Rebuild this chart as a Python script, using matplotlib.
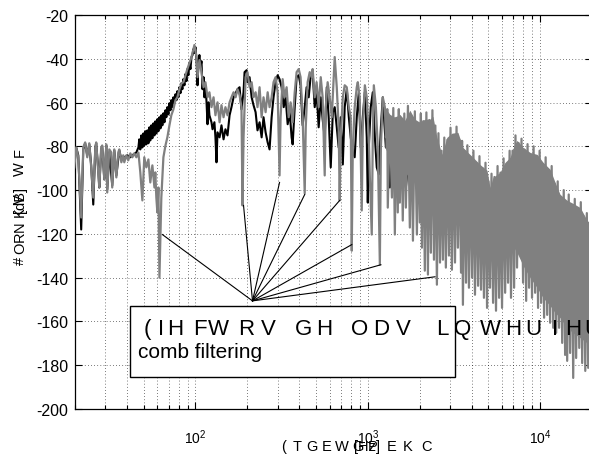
import numpy as np
import matplotlib
matplotlib.use("Agg")
import matplotlib.pyplot as plt
from matplotlib.patches import Rectangle
from matplotlib.ticker import LogLocator, NullFormatter

plt.rcParams['font.family'] = ['Liberation Sans', 'DejaVu Sans']
plt.rcParams['axes.unicode_minus'] = False
plt.rcParams['mathtext.fontset'] = 'custom'
plt.rcParams['mathtext.rm'] = 'Liberation Sans'
plt.rcParams['mathtext.it'] = 'Liberation Sans:italic'
plt.rcParams['mathtext.bf'] = 'Liberation Sans:bold'

# ---------------- data (log10 of frequency in Hz, level in dB) ----------------
black_logf = [1.297,1.308,1.320,1.337,1.349,1.360,1.372,1.384,1.395,1.407,
 1.419,1.424,1.436,1.442,1.453,1.459,1.471,1.483,1.488,1.500,
 1.517,1.529,1.541,1.558,1.570,1.587,1.605,1.622,1.640,1.657,
 1.669,1.674,1.680,1.686,1.692,1.698,1.703,1.709,1.715,1.721,
 1.727,1.733,1.738,1.744,1.750,1.756,1.762,1.767,1.773,1.779,
 1.785,1.791,1.797,1.802,1.808,1.814,1.820,1.826,1.831,1.837,
 1.843,1.849,1.855,1.860,1.866,1.872,1.878,1.884,1.890,1.895,
 1.901,1.907,1.913,1.919,1.924,1.930,1.936,1.942,1.948,1.953,
 1.959,1.965,1.971,1.977,1.983,1.988,1.994,2.000,2.006,2.012,
 2.017,2.023,2.029,2.035,2.041,2.047,2.052,2.058,2.064,2.070,
 2.076,2.081,2.093,2.099,2.110,2.116,2.122,2.128,2.140,2.151,
 2.163,2.174,2.186,2.198,2.209,2.221,2.233,2.244,2.256,2.267,
 2.279,2.285,2.297,2.302,2.314,2.326,2.337,2.349,2.360,2.372,
 2.384,2.395,2.407,2.419,2.430,2.442,2.453,2.465,2.477,2.488,
 2.500,2.512,2.523,2.535,2.547,2.558,2.564,2.576,2.587,2.599,
 2.610,2.622,2.634,2.645,2.657,2.669,2.680,2.692,2.703,2.715,
 2.727,2.738,2.750,2.762,2.773,2.785,2.797,2.808,2.820,2.831,
 2.843,2.855,2.866,2.878,2.890,2.901,2.913,2.924,2.936,2.948,
 2.959,2.971,2.983,2.994,3.000,3.006,3.017,3.029,3.041,3.052,
 3.064,3.076,3.087,3.105,3.116,3.128,3.140,3.151,3.168,3.186,
 3.203,3.221,3.238,3.256,3.273,3.291,3.308,3.326,3.343,3.360,
 3.378,3.395,3.419,3.436,3.453,3.477,3.494,3.512,3.535,3.593,
 3.709,3.826,3.942,4.058,4.174,4.302]
black_db = [-88.7,-80.5,-84.1,-118.0,-81.4,-78.6,-84.1,-79.1,-88.7,-106.6,
 -80.5,-78.6,-90.5,-98.8,-81.4,-80.5,-95.1,-79.6,-99.7,-82.8,
 -97.9,-81.8,-93.3,-81.8,-86.0,-85.0,-84.1,-85.0,-83.7,-82.8,
 -80.5,-76.8,-81.4,-75.0,-80.5,-74.1,-79.6,-73.1,-79.1,-72.7,
 -78.6,-71.3,-77.3,-70.4,-76.3,-69.5,-75.0,-68.6,-74.1,-67.6,
 -73.1,-66.7,-71.8,-65.8,-70.4,-64.9,-69.0,-63.5,-66.7,-62.1,
 -65.4,-60.3,-63.5,-58.9,-62.1,-57.6,-60.3,-56.2,-58.9,-54.8,
 -57.6,-53.0,-55.7,-51.2,-53.9,-49.3,-52.1,-47.0,-50.2,-44.7,
 -47.5,-42.0,-44.7,-39.2,-38.3,-35.6,-37.4,-34.7,-40.2,-52.1,
 -41.5,-38.3,-43.8,-41.1,-53.9,-48.4,-57.6,-53.0,-59.4,-69.9,
 -59.9,-65.8,-69.0,-72.2,-69.0,-75.9,-87.3,-73.6,-75.9,-70.4,
 -76.8,-72.2,-75.0,-65.8,-62.1,-57.6,-55.7,-53.9,-53.0,-63.1,
 -55.3,-46.1,-45.2,-50.7,-48.4,-57.6,-61.2,-64.4,-72.7,-69.0,
 -75.9,-66.7,-73.6,-78.2,-81.4,-66.7,-57.6,-50.7,-47.5,-49.3,
 -53.0,-62.1,-57.6,-69.9,-64.4,-75.9,-79.1,-62.1,-48.4,-47.5,
 -52.1,-70.4,-62.1,-53.0,-57.6,-47.5,-46.1,-62.1,-55.3,-71.3,
 -57.6,-67.6,-75.9,-53.0,-66.7,-89.6,-64.4,-62.1,-71.3,-80.5,
 -66.7,-88.3,-62.1,-53.9,-66.7,-75.9,-82.8,-85.0,-66.7,-55.3,
 -80.5,-66.7,-55.3,-75.9,-105.7,-80.5,-62.1,-55.3,-75.9,-89.6,
 -92.8,-71.3,-57.6,-80.5,-75.9,-98.8,-80.5,-94.2,-80.5,-96.5,
 -75.9,-98.8,-85.0,-100.2,-80.5,-96.5,-75.9,-98.8,-80.5,-110.2,
 -85.0,-117.1,-94.2,-119.8,-89.6,-108.0,-80.5,-98.8,-89.6,-94.2,
 -103.4,-103.4,-112.5,-126.3,-135.4,-140.0]

gray_logf_low = [1.297,1.308,1.320,1.337,1.349,1.360,1.372,1.384,1.395,1.407,
 1.419,1.424,1.436,1.442,1.453,1.459,1.471,1.483,1.488,1.500,
 1.512,1.517,1.529,1.541,1.552,1.558,1.570,1.581,1.587,1.599,
 1.610,1.622,1.634,1.645,1.657,1.669,1.680,1.692,1.703,1.715,
 1.727,1.738,1.750,1.762,1.767,1.773,1.779,1.785,1.791,1.802,
 1.814,1.826,1.837,1.849,1.860,1.872,1.884,1.895,1.907,1.919,
 1.930,1.942,1.953,1.965,1.977,1.988,1.994,2.006,2.012,2.023,
 2.035,2.047,2.058,2.070,2.081,2.093,2.105,2.116,2.128,2.140,
 2.151,2.163,2.174,2.186,2.198,2.209,2.221,2.233,2.244,2.256,
 2.267,2.273,2.279,2.291,2.302,2.314,2.326,2.337,2.349,2.360,
 2.372,2.384,2.395,2.407,2.419,2.430,2.442,2.453,2.465,2.477,
 2.488,2.494,2.506,2.517,2.529,2.541,2.552,2.564,2.576,2.587,
 2.599,2.610,2.622,2.634,2.640,2.651,2.663,2.674,2.680,2.692,
 2.703,2.715,2.727,2.738,2.750,2.756,2.767,2.779,2.791,2.802,
 2.808,2.820,2.831,2.837,2.843,2.855,2.866,2.878,2.890,2.901,
 2.907,2.913,2.924,2.936,2.942,2.953,2.965,2.971,2.983,2.994,
 3.006,3.012,3.023,3.029,3.035,3.047,3.058,3.070,3.076,3.087,
 3.099,3.105,3.110]
gray_db_low = [-89.6,-80.5,-85.0,-112.5,-80.5,-78.2,-85.0,-78.6,-89.6,-103.4,
 -80.5,-78.2,-91.9,-98.8,-80.5,-79.6,-95.1,-79.1,-101.1,-81.4,
 -82.8,-98.8,-81.4,-94.2,-82.8,-81.4,-87.3,-84.1,-87.3,-84.1,
 -86.4,-83.2,-85.0,-83.2,-85.0,-82.8,-91.9,-104.7,-85.0,-89.6,
 -86.0,-96.5,-88.7,-98.8,-91.9,-103.4,-110.2,-98.8,-140.0,-103.4,
 -85.0,-79.6,-75.9,-70.4,-65.8,-63.1,-58.9,-57.6,-53.9,-51.2,
 -50.7,-47.5,-44.7,-42.0,-39.2,-35.6,-33.7,-39.2,-48.4,-40.6,
 -46.1,-53.0,-50.7,-57.6,-55.3,-62.1,-57.6,-65.8,-59.9,-69.0,
 -61.2,-66.7,-62.1,-65.8,-59.9,-57.6,-55.3,-57.6,-53.9,-56.6,
 -62.1,-107.0,-75.9,-48.4,-46.1,-53.0,-50.7,-57.6,-55.3,-62.1,
 -53.0,-66.7,-57.6,-64.4,-55.3,-62.1,-57.6,-50.7,-48.4,-55.3,
 -93.3,-66.7,-49.3,-57.6,-53.0,-66.7,-59.9,-69.0,-55.3,-46.1,
 -44.7,-48.4,-66.7,-101.5,-71.3,-50.7,-46.1,-48.4,-44.7,-57.6,
 -50.7,-62.1,-48.4,-57.6,-93.3,-62.1,-50.7,-57.6,-66.7,-48.4,
 -39.2,-53.0,-71.3,-104.7,-75.9,-57.6,-52.1,-53.0,-62.1,-66.7,
 -127.7,-80.5,-62.1,-53.0,-50.7,-57.6,-109.3,-71.3,-52.1,-57.6,
 -75.9,-94.2,-120.3,-75.9,-52.1,-62.1,-80.5,-134.1,-80.5,-57.6,
 -62.1,-75.9,-69.0]

gray_logf_high = [3.113,3.116,3.128,3.140,3.148,3.157,3.165,3.174,3.180,3.186,
 3.195,3.203,3.212,3.221,3.233,3.244,3.253,3.262,3.273,3.285,
 3.294,3.302,3.308,3.314,3.322,3.331,3.340,3.349,3.357,3.366,
 3.375,3.384,3.392,3.401,3.410,3.419,3.428,3.436,3.444,3.453,
 3.462,3.471,3.480,3.488,3.497,3.506,3.515,3.523,3.532,3.541,
 3.547,3.552,3.561,3.570,3.578,3.587,3.596,3.605,3.613,3.622,
 3.631,3.640,3.648,3.657,3.666,3.674,3.683,3.692,3.700,3.709,
 3.718,3.727,3.735,3.744,3.753,3.762,3.770,3.779,3.788,3.797,
 3.805,3.814,3.823,3.831,3.840,3.849,3.857,3.866,3.875,3.884,
 3.892,3.901,3.910,3.919,3.927,3.936,3.945,3.953,3.962,3.971,
 3.980,3.988,3.997,4.006,4.014,4.023,4.032,4.041,4.049,4.058,
 4.067,4.076,4.084,4.093,4.102,4.110,4.119,4.128,4.137,4.145,
 4.151,4.157,4.166,4.174,4.183,4.192,4.201,4.209,4.218,4.227,
 4.236,4.244,4.253,4.262,4.271,4.279,4.288,4.297,4.305]
gray_db_high = [-63.0,-108.0,-66.5,-103.4,-62.5,-120.3,-67.0,-110.2,-63.0,-105.7,
 -68.0,-113.9,-65.0,-108.0,-61.5,-117.1,-66.5,-123.1,-64.0,-120.3,
 -69.5,-114.8,-65.0,-126.3,-68.5,-136.8,-64.5,-138.6,-68.0,-128.6,
 -63.5,-131.8,-70.5,-143.2,-74.0,-133.1,-82.0,-131.8,-76.0,-135.4,
 -77.0,-129.9,-71.5,-136.4,-75.0,-133.1,-71.0,-126.3,-77.0,-137.7,
 -77.5,-152.4,-82.0,-142.3,-79.5,-144.6,-85.0,-140.0,-82.0,-147.8,
 -87.5,-143.7,-84.5,-145.5,-90.0,-149.2,-87.5,-153.8,-96.0,-144.6,
 -92.5,-151.5,-94.0,-155.1,-89.0,-149.2,-92.0,-153.8,-85.5,-146.9,
 -88.0,-142.3,-82.0,-149.2,-82.0,-144.6,-75.0,-135.4,-78.5,-129.5,
 -76.5,-142.3,-81.5,-150.6,-79.0,-144.6,-84.0,-149.2,-80.0,-146.9,
 -85.0,-153.8,-82.0,-151.5,-88.0,-158.3,-85.0,-157.0,-91.0,-160.6,
 -89.0,-162.9,-97.0,-165.2,-96.0,-162.9,-103.0,-169.8,-100.0,-175.3,
 -105.5,-178.0,-102.0,-174.4,-107.0,-185.8,-104.0,-176.7,-108.5,-172.1,
 -105.5,-179.0,-112.0,-182.6,-110.5,-181.2,-116.0,-179.0,-116.0]

# solid body of the dense grey spectrum above ~1.2 kHz
band_logf = [3.099,3.128,3.157,3.186,3.215,3.244,3.273,3.302,3.331,3.360,
 3.378,3.401,3.430,3.459,3.488,3.523,3.552,3.581,3.610,3.651,
 3.692,3.709,3.727,3.767,3.797,3.826,3.849,3.866,3.901,3.942,
 3.983,4.017,4.058,4.087,4.116,4.157,4.192,4.233,4.273,4.302]
band_hi = [-62.0,-65.4,-66.7,-65.4,-68.1,-63.5,-67.6,-69.0,-67.6,-67.6,
 -66.3,-75.9,-83.7,-75.9,-74.0,-73.6,-80.5,-82.8,-85.0,-88.3,
 -91.0,-98.8,-94.2,-91.9,-87.3,-85.0,-79.6,-77.3,-80.5,-82.8,
 -83.7,-87.3,-90.5,-96.5,-102.0,-104.7,-106.1,-108.0,-113.9,-115.7]
band_lo = [-80.5,-85.0,-87.3,-89.6,-91.9,-94.2,-94.2,-96.5,-98.8,-101.0,
 -101.0,-103.4,-105.7,-108.0,-110.2,-112.5,-117.1,-121.7,-124.0,-128.6,
 -130.9,-131.8,-131.8,-131.8,-130.0,-126.3,-126.3,-128.6,-134.5,-140.0,
 -144.6,-149.2,-152.8,-156.0,-158.3,-162.9,-165.2,-167.5,-169.8,-171.2]

# annotation: lines from one point to the comb-filter notches
ann_from_logf, ann_from_db = 2.331, -150.6
ann_logf = [1.808, 2.279, 2.488, 2.634, 2.837, 2.907, 3.076, 3.390]
ann_db = [-120.3, -107.0, -96.5, -102.0, -104.7, -124.9, -134.1, -139.6]

y_ticks = [-200, -180, -160, -140, -120, -100, -80, -60, -40, -20]
x_ticks = [100, 1000, 10000]
x_ticklabels = ['$10^{2}$', '$10^{3}$', '$10^{4}$']

title_chars = list("(IHFWRVGHODVLQWHUIHU")
ylabel_chars = list("#ORNKVWF")
xlabel_chars = list("(TGEWGPEKC")
ylabel_unit = "[dB]"
xlabel_unit = "[Hz]"
box_text = "comb filtering"

# ---------------- figure ----------------
W, H = 589, 464
fig = plt.figure(figsize=(W / 100, H / 100), dpi=100)
fx = lambda px: px / W
fy = lambda py: 1 - py / H

ax = fig.add_axes([fx(75), fy(410), 517 / W, 394 / H])
ax.set_xscale('log')

GRAY = '#808080'
ax.plot(10 ** np.array(black_logf), black_db, color='black', lw=1.5, zorder=2)
ax.fill_between(10 ** np.array(band_logf), band_lo, band_hi, color=GRAY, lw=0, zorder=3)
ax.plot(10 ** np.array(gray_logf_low + gray_logf_high), gray_db_low + gray_db_high,
        color=GRAY, lw=1.6, zorder=3)

for lf, d in zip(ann_logf, ann_db):
    ax.plot([10 ** ann_from_logf, 10 ** lf], [ann_from_db, d], color='black', lw=0.8, zorder=4)

ax.set_xlim(20, 20000)
ax.set_ylim(-200, -20)
ax.set_xticks(x_ticks)
ax.set_xticklabels(x_ticklabels)
ax.xaxis.set_minor_locator(LogLocator(base=10, subs=range(2, 10), numticks=20))
ax.xaxis.set_minor_formatter(NullFormatter())
ax.set_yticks(y_ticks)
ax.set_yticklabels([str(v) for v in y_ticks])

ax.tick_params(which='both', direction='in', top=True, right=True, width=0.8)
ax.tick_params(which='major', length=5)
ax.tick_params(which='minor', length=3)
ax.tick_params(axis='y', labelsize=11.5, pad=5)
ax.tick_params(axis='x', labelsize=10, pad=13)
ax.grid(True, which='major', axis='both', color='black', lw=0.5, ls=(0, (1, 3.5)))
ax.grid(True, which='minor', axis='x', color='black', lw=0.5, ls=(0, (1, 3.5)))
ax.set_axisbelow(True)
for s in ax.spines.values():
    s.set_linewidth(0.9)

# box with text
fig.add_artist(Rectangle((fx(130), fy(378)), (455 - 130) / W, (378 - 307) / H,
                         transform=fig.transFigure, facecolor='white',
                         edgecolor='black', lw=1.0, zorder=5))
title_px = [147, 161, 175, 200, 218, 246, 268, 304, 324, 360, 381, 403,
            442, 463, 490, 513, 533, 555, 573, 592]
for ch, px in zip(title_chars, title_px):
    fig.text(fx(px), fy(335), ch, ha='center', va='baseline', fontsize=16, zorder=6)
fig.text(fx(138), fy(358), box_text, ha='left', va='baseline', fontsize=15, zorder=6)

# axis labels (garbled characters as in the original)
ylabel_py = [261, 248, 237, 227, 212, 199, 169, 153]
for ch, py in zip(ylabel_chars, ylabel_py):
    fig.text(fx(20), fy(py), ch, ha='center', va='center', rotation=90, fontsize=10.5)
fig.text(fx(20), fy(200), ylabel_unit, ha='center', va='center', rotation=90, fontsize=10.5)

xlabel_px = [284, 297, 312, 327, 342, 358, 373, 392, 408, 426]
for ch, px in zip(xlabel_chars, xlabel_px):
    fig.text(fx(px), fy(447), ch, ha='center', va='center', fontsize=10.5)
fig.text(fx(367), fy(447), xlabel_unit, ha='center', va='center', fontsize=10.5)

fig.savefig('out.png', dpi=100)
